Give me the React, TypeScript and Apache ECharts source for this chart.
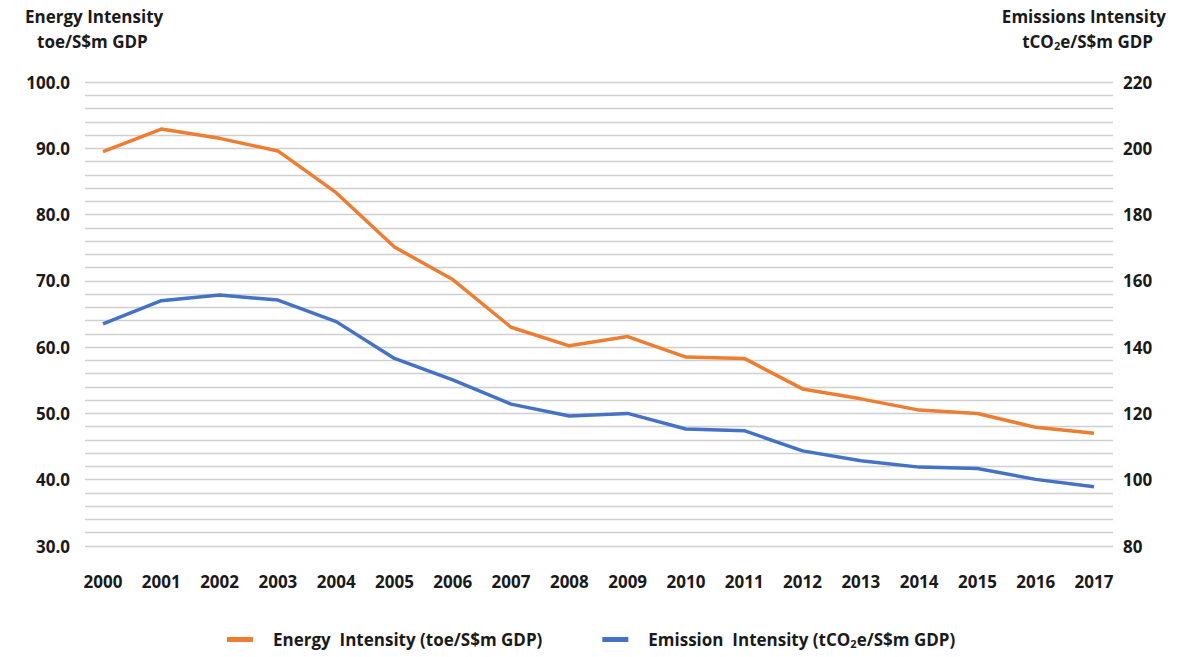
import React, { useEffect, useRef } from "react";
import * as echarts from "echarts";

const years = ["2000","2001","2002","2003","2004","2005","2006","2007","2008","2009","2010","2011","2012","2013","2014","2015","2016","2017"];
const energyIntensity = [89.5, 92.9, 91.5, 89.6, 83.3, 75.1, 70.2, 63.0, 60.2, 61.6, 58.5, 58.3, 53.7, 52.2, 50.5, 50.0, 47.9, 47.0];
const emissionIntensity = [147.0, 154.0, 155.7, 154.2, 147.7, 136.6, 130.1, 122.8, 119.2, 120.0, 115.3, 114.8, 108.7, 105.7, 103.8, 103.4, 100.1, 97.9];
const energyName = "Energy Intensity (toe/S$m GDP)";
const emissionName = "Emission Intensity (tCO2e/S$m GDP)";

const FONT = "'Open Sans', 'Noto Sans', sans-serif";
const TXT = "#1a1a1a";

export default function App() {
  const ref = useRef<HTMLDivElement>(null);
  useEffect(() => {
    if (!ref.current) return;
    const chart = echarts.init(ref.current, undefined, { renderer: "svg" });
    const labelStyle = { fontFamily: FONT, fontWeight: "bold" as const, fontSize: 17, color: TXT };
    chart.setOption({
      animation: false,
      backgroundColor: "#ffffff",
      grid: [
        { left: 85, right: 85, top: 82, bottom: 111 },
        { left: 103, right: 104, top: 82, bottom: 111 },
      ],
      xAxis: [
        { type: "value", gridIndex: 0, show: false, min: 0, max: 1 },
        {
          type: "category", gridIndex: 1, data: years, boundaryGap: false,
          axisLine: { show: false }, axisTick: { show: false },
          axisLabel: { ...labelStyle, margin: 27 },
        },
      ],
      yAxis: [
        {
          type: "value", gridIndex: 0, position: "left", min: 30, max: 100, interval: 2,
          axisLine: { show: false }, axisTick: { show: false },
          axisLabel: { ...labelStyle, margin: 15, formatter: (v: number) => (v % 10 === 0 ? v.toFixed(1) : "") },
          splitLine: { show: true, lineStyle: { color: "#d0d0d0", width: 1.3 } },
        },
        {
          type: "value", gridIndex: 0, position: "right", min: 80, max: 220, interval: 20,
          axisLine: { show: false }, axisTick: { show: false },
          axisLabel: { ...labelStyle, margin: 10 },
          splitLine: { show: false },
        },
        { type: "value", gridIndex: 1, min: 30, max: 100, show: false, splitLine: { show: false } },
        { type: "value", gridIndex: 1, min: 80, max: 220, show: false, splitLine: { show: false } },
      ],
      legend: {
        bottom: 3,
        left: 222,
        itemGap: 60,
        itemWidth: 26,
        itemHeight: 5,
        icon: "rect",
        data: [energyName, emissionName],
        formatter: (name: string) =>
          name === emissionName
            ? "{a|Emission  Intensity (tCO}{s|2}{a|e/S$m GDP)}"
            : "{a|Energy  Intensity (toe/S$m GDP)}",
        textStyle: {
          ...labelStyle,
          padding: [0, 0, 0, 15],
          rich: {
            a: { fontFamily: FONT, fontWeight: "bold", fontSize: 17, color: TXT },
            s: { fontFamily: FONT, fontWeight: "bold", fontSize: 11, color: TXT, padding: [8, 0, 0, 0] },
          },
        },
      },
      graphic: [
        {
          type: "text", left: 25, top: 8,
          style: { text: "Energy Intensity", font: `bold 17px ${FONT}`, fill: TXT },
        },
        {
          type: "text", left: 37, top: 33,
          style: { text: "toe/S$m GDP", font: `bold 17px ${FONT}`, fill: TXT },
        },
        {
          type: "text", right: 32, top: 8,
          style: { text: "Emissions Intensity", font: `bold 17px ${FONT}`, fill: TXT },
        },
        {
          type: "text", right: 45, top: 33,
          style: {
            text: "{a|tCO}{s|2}{a|e/S$m GDP}",
            rich: {
              a: { fontFamily: FONT, fontWeight: "bold", fontSize: 17, fill: TXT, color: TXT },
              s: { fontFamily: FONT, fontWeight: "bold", fontSize: 11, fill: TXT, color: TXT, padding: [8, 0, 0, 0] },
            },
          },
        },
      ],
      series: [
        {
          name: energyName, type: "line", xAxisIndex: 1, yAxisIndex: 2, data: energyIntensity,
          symbol: "none", lineStyle: { color: "#ED7D31", width: 3.5 }, itemStyle: { color: "#ED7D31" },
        },
        {
          name: emissionName, type: "line", xAxisIndex: 1, yAxisIndex: 3, data: emissionIntensity,
          symbol: "none", lineStyle: { color: "#4472C4", width: 3.5 }, itemStyle: { color: "#4472C4" },
        },
      ],
    });
    return () => chart.dispose();
  }, []);
  return <div ref={ref} style={{ position: "fixed", left: 0, top: 0, width: 1198, height: 657 }} />;
}
